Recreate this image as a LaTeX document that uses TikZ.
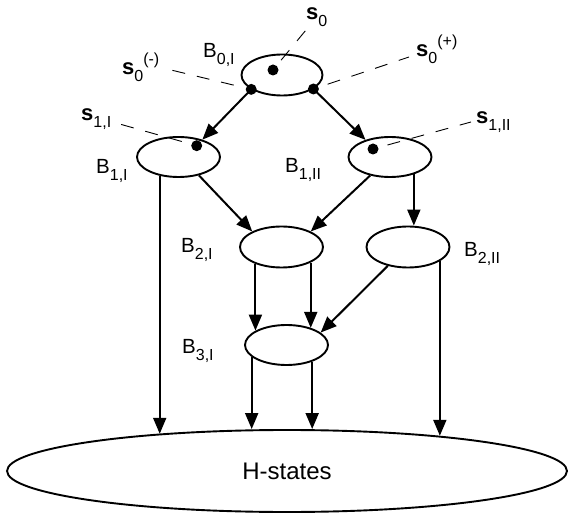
\documentclass[tikz,border=0pt]{standalone}
\usepackage{fontspec}
\setmainfont{Liberation Sans}
\usetikzlibrary{arrows.meta,shapes.geometric,calc}
\newcommand\mysub[1]{\raisebox{-7pt}{\fontsize{16pt}{16pt}\selectfont #1}}
\newcommand\mysup[1]{\raisebox{10pt}{\fontsize{16pt}{16pt}\selectfont #1}}
\newcommand\Blab[1]{{\fontsize{20.5pt}{21pt}\selectfont B}\mysub{#1}}
\newcommand\slab[1]{{\fontsize{22pt}{22pt}\selectfont\bfseries s}\mysub{#1}}
\begin{document}
\begin{tikzpicture}[x=1pt,y=-1pt,
  state/.style={draw,ellipse,line width=1.9pt,inner sep=0pt,minimum width=83pt,minimum height=40pt},
  arr/.style={line width=2pt,-{Triangle[length=16pt,width=13pt]}},
  dashline/.style={line width=0.9pt,dash pattern=on 13pt off 12pt},
  lab/.style={inner sep=0pt,anchor=base west},
  dotc/.style={circle,fill,inner sep=0pt,minimum size=11pt}]
\useasboundingbox (0,0) rectangle (568,513);
% states
\node[state,minimum width=81pt,minimum height=41pt] (b0) at (282,75) {};
\node[state] (b1i) at (178.5,157) {};
\node[state] (b1ii) at (390,157) {};
\node[state,minimum height=41pt] (b2i) at (281.5,247) {};
\node[state,minimum height=41pt] (b2ii) at (408,247) {};
\node[state] (b3i) at (286.5,345) {};
\node[state,minimum width=560pt,minimum height=82pt,font=\fontsize{24pt}{24pt}\selectfont] (h) at (287,471) {\raisebox{-5pt}{H-states}};
% labels
\node[lab] (lb0) at (203,58) {\Blab{0,I}};
\node[lab] (lb1i) at (96,174) {\Blab{1,I}};
\node[lab] (lb1ii) at (285,173) {\Blab{1,II}};
\node[lab] (lb2i) at (181,253) {\Blab{2,I}};
\node[lab] (lb2ii) at (464,257) {\Blab{2,II}};
\node[lab] (lb3i) at (182,353) {\Blab{3,I}};
\node[lab] (ls0) at (306,20) {\slab{0}};
\node[lab] (ls0p) at (416,57) {\slab{0}\mysup{(+)}};
\node[lab] (ls0m) at (122,75) {\slab{0}\mysup{(-)}};
\node[lab] (ls1i) at (81,121) {\slab{1,I}};
\node[lab] (ls1ii) at (476,124) {\slab{1,II}};
% dot positions
\coordinate (p0) at ($(b0.center)+(-9,-5)$);
\coordinate (pl) at (b0.205);
\coordinate (pr) at (b0.336);
\coordinate (p1) at ($(b1i.center)+(18.2,-11.3)$);
\coordinate (p2) at ($(b1ii.center)+(-17,-8)$);
% dashed leaders
\coordinate (e0) at (306,30);
\coordinate (em) at (171,70);
\coordinate (ep) at (409,57);
\coordinate (e1) at (116,123);
\coordinate (e2) at (471,122);
\draw[dashline,shorten <=12.7pt] (p0) -- (e0);
\draw[dashline,shorten <=18pt] (pl) -- (em);
\draw[dashline,shorten <=15pt] (pr) -- (ep);
\draw[dashline,shorten <=15.5pt] (p1) -- (e1);
\draw[dashline,shorten <=15pt] (p2) -- (e2);
% arrows
\draw[arr] (pl) -- (b1i.36);
\draw[arr] (pr) -- (b1ii.145);
\draw[arr] (b1i.318) -- (b2i.152);
\draw[arr] (b1ii.223) -- (b2i.28);
\draw[arr] (b1ii.324) -- (b1ii.324 |- b2ii.north);
\draw[arr] (b2i.213) -- (b2i.213 |- b3i.155);
\draw[arr] (b2i.332) -- (b2i.332 |- b3i.35);
\draw[arr] (b2ii.223) -- (b3i.20);
\draw[arr] (b1i.225) -- (b1i.225 |- h.164);
\draw[arr] (b3i.199) -- (b3i.199 |- h.north);
\draw[arr] (b3i.327) -- (b3i.327 |- h.north);
\draw[arr] (b2ii.336) -- (b2ii.336 |- h.13);
% dots
\node[dotc] (d0) at (p0) {};
\node[dotc] (dl) at (pl) {};
\node[dotc] (dr) at (pr) {};
\node[dotc] (d1) at (p1) {};
\node[dotc] (d2) at (p2) {};
\end{tikzpicture}
\end{document}
